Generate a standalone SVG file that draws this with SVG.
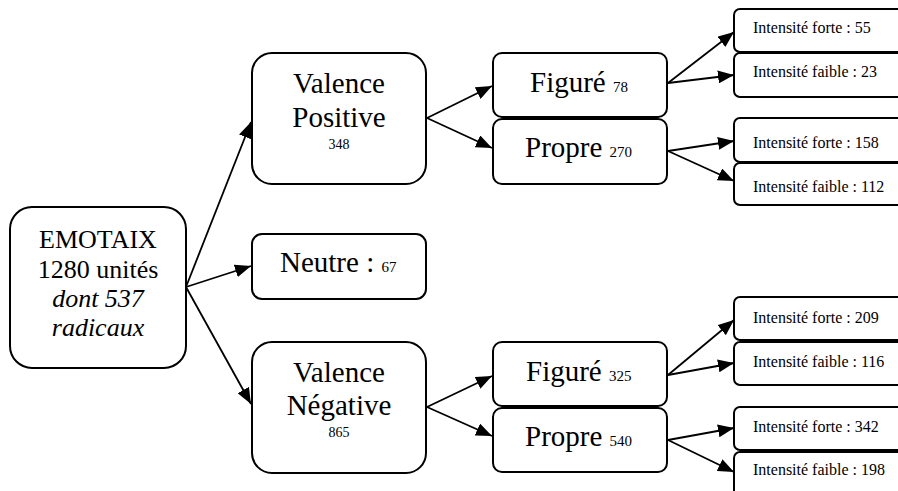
<svg xmlns="http://www.w3.org/2000/svg" width="898" height="491" viewBox="0 0 898 491">
<style>
.box{fill:#fff;stroke:#000;stroke-width:2}
.t{font-family:"Liberation Serif","Times New Roman",serif;fill:#000}
.big{font-size:29px}
.mid{font-size:26px}
.sm{font-size:15px}
.num{font-size:14px}
.it{font-size:16px}
.edge{stroke:#000;stroke-width:1.8;fill:none;marker-end:url(#ah)}
</style>
<defs>
<marker id="ah" markerUnits="userSpaceOnUse" markerWidth="17" markerHeight="13" refX="16" refY="6.5" orient="auto">
<path d="M0,0 L16,6.5 L0,13 Z" fill="#000"/>
</marker>
</defs>
<rect width="898" height="491" fill="#fff"/>
<g id="connectors">
<line class="edge" x1="186" y1="287" x2="251" y2="122"/>
<line class="edge" x1="186" y1="287" x2="251" y2="266"/>
<line class="edge" x1="186" y1="287" x2="251" y2="404"/>
<line class="edge" x1="427" y1="118" x2="492" y2="86"/>
<line class="edge" x1="427" y1="118" x2="492" y2="148"/>
<line class="edge" x1="427" y1="407" x2="492" y2="376"/>
<line class="edge" x1="427" y1="407" x2="492" y2="436"/>
<line class="edge" x1="668" y1="83" x2="734" y2="32"/>
<line class="edge" x1="668" y1="83" x2="734" y2="75"/>
<line class="edge" x1="668" y1="151" x2="734" y2="141"/>
<line class="edge" x1="668" y1="151" x2="734" y2="181"/>
<line class="edge" x1="668" y1="375" x2="734" y2="320"/>
<line class="edge" x1="668" y1="375" x2="734" y2="363"/>
<line class="edge" x1="668" y1="440" x2="734" y2="428"/>
<line class="edge" x1="668" y1="440" x2="734" y2="472"/>
</g>
<g id="emotaix">
<rect class="box" x="10" y="207" width="176" height="161" rx="22"/>
<text class="t mid" x="98" y="248" text-anchor="middle">EMOTAIX</text>
<text class="t mid" x="98" y="278" text-anchor="middle">1280 unités</text>
<text class="t mid" x="98" y="307" text-anchor="middle" font-style="italic">dont 537</text>
<text class="t mid" x="98" y="336" text-anchor="middle" font-style="italic">radicaux</text>
</g>
<g id="valence-positive">
<rect class="box" x="252" y="53" width="174" height="131" rx="20"/>
<text class="t big" x="339" y="93" text-anchor="middle">Valence</text>
<text class="t big" x="339" y="127" text-anchor="middle">Positive</text>
<text class="t num" x="339" y="149" text-anchor="middle">348</text>
</g>
<g id="neutre">
<rect class="box" x="252" y="234" width="174" height="65" rx="10"/>
<text class="t big" x="280" y="272">Neutre : <tspan class="sm">67</tspan></text>
</g>
<g id="valence-negative">
<rect class="box" x="252" y="342" width="174" height="131" rx="20"/>
<text class="t big" x="339" y="382" text-anchor="middle">Valence</text>
<text class="t big" x="339" y="415" text-anchor="middle">Négative</text>
<text class="t num" x="339" y="437" text-anchor="middle">865</text>
</g>
<g id="figure-pos">
<rect class="box" x="493" y="53" width="174" height="64" rx="9"/>
<text class="t big" x="530" y="92">Figuré <tspan class="sm">78</tspan></text>
</g>
<g id="propre-pos">
<rect class="box" x="493" y="119" width="174" height="65" rx="9"/>
<text class="t big" x="525" y="157">Propre <tspan class="sm">270</tspan></text>
</g>
<g id="figure-neg">
<rect class="box" x="493" y="342" width="174" height="64" rx="9"/>
<text class="t big" x="526" y="381">Figuré <tspan class="sm">325</tspan></text>
</g>
<g id="propre-neg">
<rect class="box" x="493" y="408" width="174" height="64" rx="9"/>
<text class="t big" x="525" y="446">Propre <tspan class="sm">540</tspan></text>
</g>
<g id="i1"><rect class="box" x="734" y="9" width="180" height="43" rx="6"/><text class="t it" x="753" y="33">Intensité forte : 55</text></g>
<g id="i2"><rect class="box" x="734" y="53" width="180" height="44" rx="6"/><text class="t it" x="753" y="77">Intensité faible : 23</text></g>
<g id="i3"><rect class="box" x="734" y="118" width="180" height="44" rx="6"/><text class="t it" x="753" y="148">Intensité forte : 158</text></g>
<g id="i4"><rect class="box" x="734" y="163" width="180" height="42" rx="6"/><text class="t it" x="753" y="192">Intensité faible : 112</text></g>
<g id="i5"><rect class="box" x="734" y="297" width="180" height="43" rx="6"/><text class="t it" x="753" y="323">Intensité forte : 209</text></g>
<g id="i6"><rect class="box" x="734" y="342" width="180" height="43" rx="6"/><text class="t it" x="753" y="367">Intensité faible : 116</text></g>
<g id="i7"><rect class="box" x="734" y="407" width="180" height="43" rx="6"/><text class="t it" x="753" y="432">Intensité forte : 342</text></g>
<g id="i8"><rect class="box" x="734" y="452" width="180" height="44" rx="6"/><text class="t it" x="753" y="475">Intensité faible : 198</text></g>
</svg>
